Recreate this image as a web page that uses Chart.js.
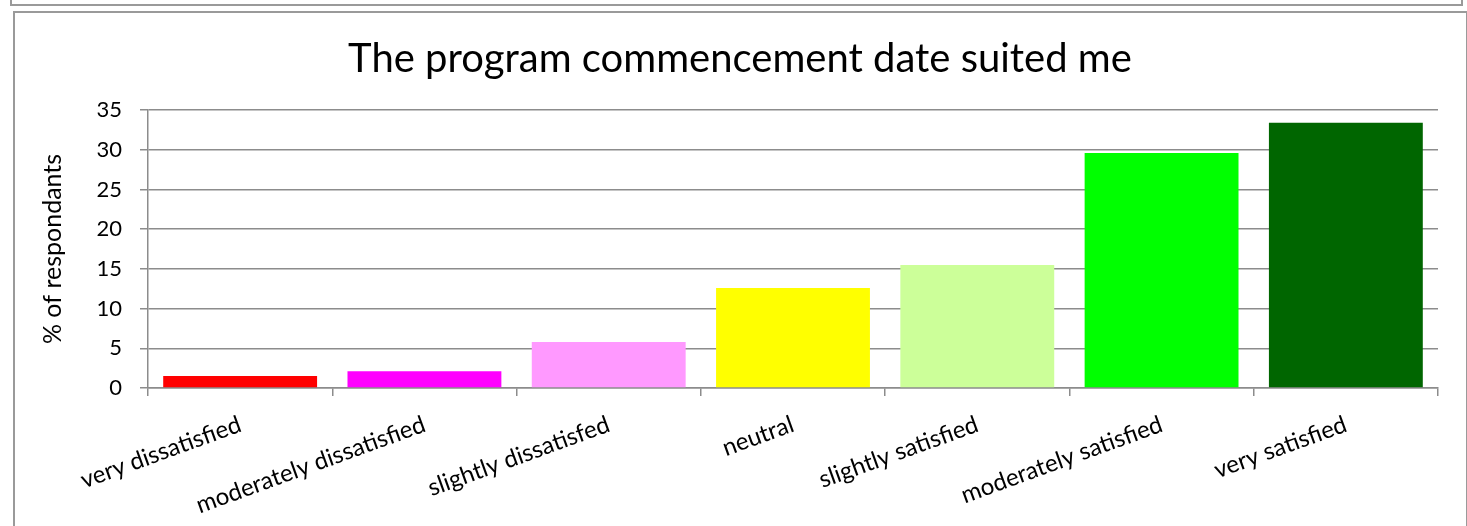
<!DOCTYPE html>
<html>
<head>
<meta charset="utf-8">
<script src="https://cdn.jsdelivr.net/npm/chart.js@4.4.1/dist/chart.umd.min.js"></script>
<style>
  html, body { margin: 0; padding: 0; background: #ffffff; }
  #wrap { position: relative; width: 1467px; height: 526px; overflow: hidden; }
  .frame { position: absolute; box-sizing: border-box; border: 2px solid #9a9a9a; }
  #upper { left: 10px; top: -20px; width: 1453px; height: 26px; }
  #inner { left: 13px; top: 11px; width: 1455px; height: 540px; }
  canvas { position: absolute; left: 0; top: 0; }
</style>
</head>
<body>
<div id="wrap">
  <div class="frame" id="upper"></div>
  <div class="frame" id="inner"></div>
  <canvas id="c" width="1467" height="526"></canvas>
</div>
<script>
const categories = ["very dissatisfied", "moderately dissatisfied", "slightly dissatisfed", "neutral", "slightly satisfied", "moderately satisfied", "very satisfied"];
const percentValues = [1.5, 2.1, 5.8, 12.6, 15.5, 29.6, 33.4];
const barColors = ["#ff0000", "#ff00ff", "#ff99ff", "#ffff00", "#ccff99", "#00ff00", "#006600"];
const chartTitle = "The program commencement date suited me";
const yAxisTitle = "% of respondants";
const yMin = 0, yMax = 35, yStep = 5;

const gridColor = "#8c8c8c";
const fontFamily = "Lato, 'Open Sans', sans-serif";

new Chart(document.getElementById("c"), {
  type: "bar",
  data: {
    labels: categories,
    datasets: [{
      data: percentValues,
      backgroundColor: barColors,
      borderWidth: 0,
      barPercentage: 0.835,
      categoryPercentage: 1.0
    }]
  },
  options: {
    responsive: false,
    animation: false,
    layout: { padding: { left: 14, right: 1, top: 12, bottom: 0 } },
    plugins: {
      legend: { display: false },
      tooltip: { enabled: false },
      title: {
        display: true,
        text: chartTitle,
        color: "#000",
        font: { family: fontFamily, size: 40, weight: "normal", lineHeight: 1.2 },
        padding: { top: 23, bottom: 27 }
      }
    },
    scales: {
      x: {
        grid: { display: true, drawOnChartArea: false, drawTicks: true, tickLength: 8, color: gridColor, lineWidth: 1.5, offset: true },
        border: { display: true, color: gridColor, width: 1.5 },
        ticks: {
          autoSkip: false, minRotation: 20, maxRotation: 20, color: "#000", padding: 14,
          font: { family: fontFamily, size: 24 }
        },
        afterFit: s => { s.height = 138; }
      },
      y: {
        min: yMin, max: yMax,
        grid: { color: gridColor, lineWidth: 1.5, tickLength: 8, drawTicks: true },
        border: { display: true, color: gridColor, width: 1.5 },
        ticks: {
          stepSize: yStep, color: "#000", padding: 18,
          font: { family: fontFamily, size: 22 }
        },
        title: {
          display: true, text: yAxisTitle, color: "#000",
          font: { family: fontFamily, size: 25, lineHeight: 1.2 },
          padding: { top: 24, bottom: 0 }
        },
        afterFit: s => { s.width = 134; }
      },
      yRight: {
        type: "linear",
        position: "right",
        display: true,
        grid: { display: false },
        border: { display: false },
        ticks: { display: false },
        afterFit: s => { s.width = 28; }
      }
    }
  }
});
</script>
</body>
</html>
